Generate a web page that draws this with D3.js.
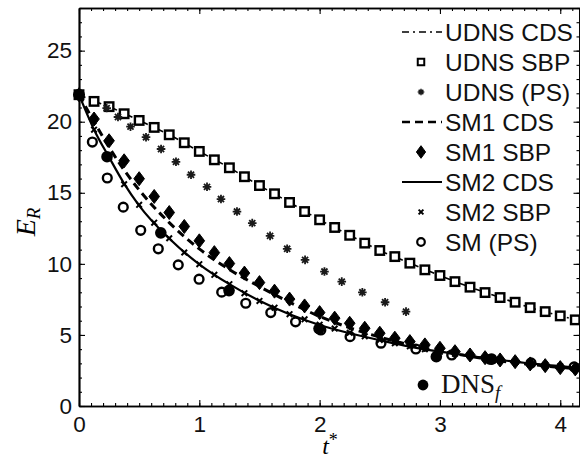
<!DOCTYPE html>
<html><head><meta charset="utf-8">
<script src="https://cdn.jsdelivr.net/npm/d3@7/dist/d3.min.js"></script>
<style>
body{margin:0;background:#fff;}
svg{display:block;}
</style></head>
<body>
<svg id="chart" width="580" height="459"></svg>
<script>
// ---------------- data ----------------
const tLine = [0, 0.125, 0.25, 0.375, 0.5, 0.75, 1.0, 1.25, 1.5, 1.75, 2.0, 2.25, 2.5, 2.75, 3.0, 3.25, 3.5, 3.75, 4.0, 4.16];
const udnsCds = [21.9, 21.45, 21.06, 20.58, 20.09, 19.08, 17.91, 16.76, 15.51, 14.32, 13.10, 12.01, 10.94, 10.05, 9.18, 8.36, 7.63, 6.92, 6.34, 6.0];
const sm1Cds  = [21.9, 20.0, 18.2, 16.6, 15.2, 12.9, 11.05, 9.6, 8.4, 7.3, 6.3, 5.5, 4.85, 4.3, 3.85, 3.5, 3.17, 2.93, 2.72, 2.62];
const sm2Cds  = [21.9, 19.44, 17.5, 15.65, 14.1, 11.78, 9.97, 8.57, 7.4, 6.45, 5.7, 5.12, 4.63, 4.18, 3.82, 3.52, 3.25, 3.0, 2.8, 2.68];

const tSbp = [0, 0.125, 0.25, 0.375, 0.5, 0.625, 0.75, 0.875, 1.0, 1.125, 1.25, 1.375, 1.5, 1.625, 1.75, 1.875, 2.0, 2.125, 2.25, 2.375, 2.5, 2.625, 2.75, 2.875, 3.0, 3.125, 3.25, 3.375, 3.5, 3.625, 3.75, 3.875, 4.0, 4.125];
const udnsSbp = [21.9, 21.43, 21.06, 20.56, 20.09, 19.6, 19.08, 18.52, 17.91, 17.32, 16.76, 16.13, 15.51, 14.93, 14.32, 13.68, 13.10, 12.56, 12.01, 11.46, 10.94, 10.51, 10.05, 9.58, 9.18, 8.75, 8.36, 7.98, 7.63, 7.30, 6.92, 6.64, 6.34, 6.06];
const sm1Sbp  = [21.9, 20.19, 18.66, 17.25, 15.99, 14.74, 13.61, 12.63, 11.62, 10.79, 10.02, 9.35, 8.68, 8.08, 7.52, 7.04, 6.57, 6.18, 5.82, 5.47, 5.12, 4.77, 4.53, 4.30, 4.06, 3.82, 3.59, 3.40, 3.24, 3.12, 2.96, 2.84, 2.70, 2.61];
const sm2Sbp  = [21.9, 19.44, 17.5, 15.6, 14.15, 12.9, 11.8, 10.8, 9.98, 9.23, 8.57, 7.94, 7.39, 6.92, 6.46, 6.1, 5.72, 5.45, 5.15, 4.9, 4.65, 4.42, 4.2, 4.0, 3.82, 3.67, 3.52, 3.38, 3.25, 3.13, 3.02, 2.9, 2.8, 2.7];

const tUdnsPs = [0.23, 0.324, 0.428, 0.557, 0.682, 0.806, 0.931, 1.064, 1.18, 1.313, 1.44, 1.588, 1.73, 1.879, 2.04, 2.184, 2.355, 2.544, 2.718];
const udnsPs  = [20.96, 20.33, 19.65, 18.91, 18.08, 17.18, 16.27, 15.42, 14.56, 13.68, 12.87, 11.97, 11.06, 10.28, 9.46, 8.75, 8.0, 7.30, 6.64];

const tSmPs = [0, 0.111, 0.235, 0.368, 0.513, 0.659, 0.825, 0.998, 1.186, 1.386, 1.594, 1.80, 2.01, 2.253, 2.51, 2.80, 3.098, 3.417, 3.757, 4.115];
const smPs  = [21.9, 18.57, 16.04, 13.99, 12.36, 11.06, 9.93, 8.92, 8.01, 7.23, 6.57, 5.92, 5.35, 4.88, 4.42, 4.01, 3.59, 3.29, 3.03, 2.75];

const tDns = [0, 0.233, 0.68, 1.247, 1.995, 2.97, 3.43];
const dns  = [21.9, 17.54, 12.18, 8.12, 5.45, 3.47, 3.3];

const xMajor = [0, 1, 2, 3, 4];
const yMajor = [0, 5, 10, 15, 20, 25];
const xMinor = d3.range(0, 42).map(i => i / 10);
const yMinor = d3.range(0, 29);

const legendLabels = ["UDNS CDS", "UDNS SBP", "UDNS (PS)", "SM1 CDS", "SM1 SBP", "SM2 CDS", "SM2 SBP", "SM (PS)"];

// ---------------- drawing ----------------
const svg = d3.select("#chart");
const PL = 79, PR = 579.5, PT = 8, PB = 406;
const x = d3.scaleLinear().domain([0, 4.16]).range([PL, PR]);
const y = d3.scaleLinear().domain([0, 28]).range([PB, PT]);
const sansFont = "'Liberation Sans', Arial, Helvetica, sans-serif";
const serifFont = "'Liberation Serif', 'Times New Roman', serif";

function styleAxis(g) {
  g.selectAll("path.domain").attr("stroke", "#000").attr("stroke-width", 1.7);
  g.selectAll(".tick line").attr("stroke", "#000").attr("stroke-width", 1.1);
  g.selectAll("text").attr("font-family", sansFont).attr("font-size", 22.5).attr("fill", "#111");
}
function addAxis(axis, tx, ty) {
  const g = svg.append("g").attr("transform", `translate(${tx},${ty})`).call(axis);
  styleAxis(g);
  return g;
}
addAxis(d3.axisBottom(x).tickValues(xMajor).tickFormat(d3.format("d")).tickSizeInner(-6).tickSizeOuter(0).tickPadding(10), 0, PB);
addAxis(d3.axisBottom(x).tickValues(xMinor).tickFormat("").tickSizeInner(-3).tickSizeOuter(0), 0, PB);
addAxis(d3.axisTop(x).tickValues(xMajor).tickFormat("").tickSizeInner(-6).tickSizeOuter(0), 0, PT);
addAxis(d3.axisTop(x).tickValues(xMinor).tickFormat("").tickSizeInner(-3).tickSizeOuter(0), 0, PT);
addAxis(d3.axisLeft(y).tickValues(yMajor).tickFormat(d3.format("d")).tickSizeInner(-6).tickSizeOuter(0).tickPadding(7), PL, 0);
addAxis(d3.axisLeft(y).tickValues(yMinor).tickFormat("").tickSizeInner(-3).tickSizeOuter(0), PL, 0);
addAxis(d3.axisRight(y).tickValues(yMajor).tickFormat("").tickSizeInner(-6).tickSizeOuter(0), PR, 0);
addAxis(d3.axisRight(y).tickValues(yMinor).tickFormat("").tickSizeInner(-3).tickSizeOuter(0), PR, 0);

// axis labels
const ylab = svg.append("text").attr("transform", "translate(35,222) rotate(-90)")
  .attr("text-anchor", "middle").attr("font-family", serifFont).attr("font-size", 28).attr("font-style", "italic");
ylab.append("tspan").text("E");
ylab.append("tspan").attr("font-size", 19).attr("dy", 5).text("R");
const xlab = svg.append("text").attr("x", 330).attr("y", 454)
  .attr("text-anchor", "middle").attr("font-family", serifFont).attr("font-size", 24).attr("font-style", "italic");
xlab.append("tspan").text("t");
xlab.append("tspan").attr("font-size", 18).attr("dy", -8).attr("font-style", "normal").text("*");

// lines
const lineGen = (vals, ts) => d3.line().x((d, i) => x(ts[i])).y(d => y(d)).curve(d3.curveMonotoneX)(vals);
const plot = svg.append("g");
plot.append("path").attr("d", lineGen(udnsCds, tLine)).attr("fill", "none").attr("stroke", "#000")
  .attr("stroke-width", 1.6).attr("stroke-dasharray", "7,4,2,4");
plot.append("path").attr("d", lineGen(sm1Cds, tLine)).attr("fill", "none").attr("stroke", "#000")
  .attr("stroke-width", 3).attr("stroke-dasharray", "8,5");
plot.append("path").attr("d", lineGen(sm2Cds, tLine)).attr("fill", "none").attr("stroke", "#000")
  .attr("stroke-width", 2.2);

// marker drawers
function square(g, cx, cy, s, sw) {
  g.append("rect").attr("x", cx - s / 2).attr("y", cy - s / 2).attr("width", s).attr("height", s)
    .attr("fill", "#fff").attr("stroke", "#000").attr("stroke-width", sw);
}
function asterisk(g, cx, cy, r, sw) {
  const p = d3.path();
  for (let k = 0; k < 4; k++) {
    const a = k * Math.PI / 4;
    p.moveTo(cx - r * Math.cos(a), cy - r * Math.sin(a));
    p.lineTo(cx + r * Math.cos(a), cy + r * Math.sin(a));
  }
  g.append("path").attr("d", p.toString()).attr("stroke", "#1a1a1a").attr("stroke-width", sw).attr("fill", "none");
}
function diamond(g, cx, cy, w, h) {
  g.append("path").attr("d", `M${cx},${cy - h}L${cx + w},${cy}L${cx},${cy + h}L${cx - w},${cy}Z`)
    .attr("fill", "#000").attr("stroke", "#000").attr("stroke-width", 1);
}
function cross(g, cx, cy, r) {
  g.append("path").attr("d", `M${cx - r},${cy - r}L${cx + r},${cy + r}M${cx - r},${cy + r}L${cx + r},${cy - r}`)
    .attr("stroke", "#000").attr("stroke-width", 2).attr("fill", "none");
}
function ocircle(g, cx, cy, r, sw) {
  g.append("circle").attr("cx", cx).attr("cy", cy).attr("r", r).attr("fill", "none")
    .attr("stroke", "#000").attr("stroke-width", sw);
}
function fcircle(g, cx, cy, r) {
  g.append("circle").attr("cx", cx).attr("cy", cy).attr("r", r).attr("fill", "#000");
}

const mk = svg.append("g");
udnsSbp.forEach((v, i) => square(mk, x(tSbp[i]), y(v), 8.5, 2.4));
udnsPs.forEach((v, i) => asterisk(mk, x(tUdnsPs[i]), y(v), 4.3, 1.8));
sm1Sbp.forEach((v, i) => diamond(mk, x(tSbp[i]), y(v), 5.3, 7));
sm2Sbp.forEach((v, i) => cross(mk, x(tSbp[i]), y(v), 2.8));
smPs.forEach((v, i) => ocircle(mk, x(tSmPs[i]), y(v), 4.4, 2.4));
dns.forEach((v, i) => fcircle(mk, x(tDns[i]), y(v), 5.8));

// legend
const lg = svg.append("g");
const lx0 = 402, lx1 = 442, lmx = 421, ltx = 445;
legendLabels.forEach((lab, i) => {
  const cy = 32 + i * 30;
  lg.append("text").attr("x", ltx).attr("y", cy + 8.6).attr("font-family", sansFont).attr("font-size", 24.5)
    .attr("fill", "#111").text(lab);
  if (i === 0) lg.append("line").attr("x1", lx0).attr("x2", lx1).attr("y1", cy).attr("y2", cy)
    .attr("stroke", "#000").attr("stroke-width", 1.6).attr("stroke-dasharray", "7,4,2,4");
  if (i === 1) square(lg, lmx, cy, 6.5, 2);
  if (i === 2) asterisk(lg, lmx, cy, 3.3, 1.5);
  if (i === 3) lg.append("line").attr("x1", lx0).attr("x2", lx1).attr("y1", cy).attr("y2", cy)
    .attr("stroke", "#000").attr("stroke-width", 2.4).attr("stroke-dasharray", "8,5");
  if (i === 4) diamond(lg, lmx, cy, 4.6, 6.3);
  if (i === 5) lg.append("line").attr("x1", lx0).attr("x2", lx1).attr("y1", cy).attr("y2", cy)
    .attr("stroke", "#000").attr("stroke-width", 2.2);
  if (i === 6) cross(lg, lmx, cy, 2.4);
  if (i === 7) ocircle(lg, lmx, cy, 3.8, 2.2);
});

// DNS_f legend
fcircle(svg, 423, 385, 5.4);
const dl = svg.append("text").attr("x", 441).attr("y", 393).attr("font-family", serifFont).attr("font-size", 27).attr("fill", "#111");
dl.append("tspan").text("DNS");
dl.append("tspan").attr("font-size", 19).attr("font-style", "italic").attr("dy", 6).text("f");
</script>
</body></html>
